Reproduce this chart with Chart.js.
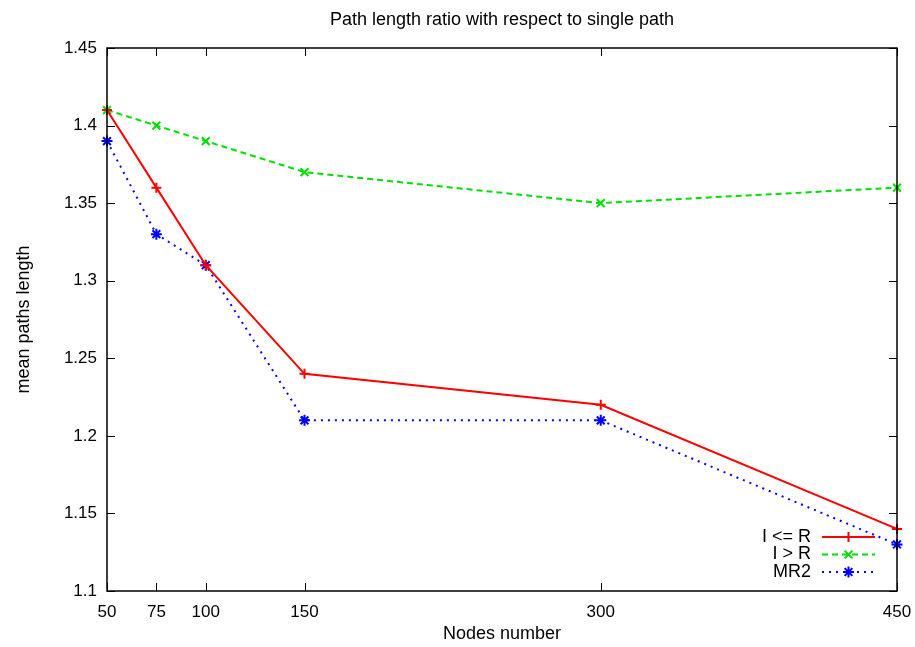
<!DOCTYPE html>
<html>
<head>
<meta charset="utf-8">
<script src="https://cdn.jsdelivr.net/npm/chart.js@4/dist/chart.umd.min.js"></script>
<style>
  html, body { margin: 0; padding: 0; background: #fff; }
  #wrap { width: 915px; height: 647px; }
</style>
</head>
<body>
<div id="wrap"><canvas id="chart" width="915" height="647"></canvas></div>
<script>
const nodes = [50, 75, 100, 150, 300, 450];
const leR = [1.41, 1.36, 1.31, 1.24, 1.22, 1.14];
const gtR = [1.41, 1.40, 1.39, 1.37, 1.35, 1.36];
const mr2 = [1.39, 1.33, 1.31, 1.21, 1.21, 1.13];
const xTicks = [50, 75, 100, 150, 300, 450];
const yTicks = [1.1, 1.15, 1.2, 1.25, 1.3, 1.35, 1.4, 1.45];

const FONT = "'Liberation Sans', Arial, Helvetica, sans-serif";
const pts = (ys) => nodes.map((x, i) => ({ x, y: ys[i] }));

// gnuplot-like frame with inward ticks on all four sides
const framePlugin = {
  id: "frame",
  afterDatasetsDraw(chart) {
    const { ctx, chartArea: a, scales } = chart;
    ctx.save();
    ctx.strokeStyle = "#000";
    ctx.lineWidth = 1.5;
    ctx.strokeRect(a.left, a.top, a.right - a.left, a.bottom - a.top);
    ctx.lineWidth = 1;
    ctx.beginPath();
    const len = 8;
    for (const v of xTicks) {
      const px = Math.round(scales.x.getPixelForValue(v)) + 0.5;
      ctx.moveTo(px, a.bottom); ctx.lineTo(px, a.bottom - len);
      ctx.moveTo(px, a.top); ctx.lineTo(px, a.top + len);
    }
    for (const v of yTicks) {
      const py = Math.round(scales.y.getPixelForValue(v)) + 0.5;
      ctx.moveTo(a.left, py); ctx.lineTo(a.left + len, py);
      ctx.moveTo(a.right, py); ctx.lineTo(a.right - len, py);
    }
    ctx.stroke();
    ctx.restore();
  },
};

// legend in the lower right corner, text left of the sample line
const keyPlugin = {
  id: "key",
  afterDraw(chart) {
    const { ctx, chartArea: a } = chart;
    ctx.save();
    ctx.font = "18px " + FONT;
    ctx.textAlign = "right";
    ctx.textBaseline = "middle";
    chart.data.datasets.forEach((ds, i) => {
      const y = a.bottom - 54 + i * 17.5;
      const textX = a.right - 86;
      const x0 = a.right - 75, x1 = a.right - 22;
      ctx.fillStyle = "#000";
      ctx.fillText(ds.label, textX, y);
      ctx.strokeStyle = ds.borderColor;
      ctx.lineWidth = ds.borderWidth;
      ctx.setLineDash(ds.borderDash || []);
      ctx.beginPath();
      ctx.moveTo(x0, y); ctx.lineTo(x1, y);
      ctx.stroke();
      ctx.setLineDash([]);
      Chart.helpers.drawPoint(ctx, {
        pointStyle: ds.pointStyle, radius: ds.pointRadius, borderWidth: ds.pointBorderWidth,
      }, (x0 + x1) / 2, y);
    });
    ctx.restore();
  },
};

Chart.defaults.font.family = FONT;
Chart.defaults.font.size = 17;
Chart.defaults.color = "#000";

new Chart(document.getElementById("chart"), {
  type: "line",
  data: {
    datasets: [
      {
        label: "I <= R", data: pts(leR),
        borderColor: "#ff0000", backgroundColor: "#ff0000", borderWidth: 2,
        pointStyle: "cross", pointRadius: 5, pointBorderWidth: 2,
      },
      {
        label: "I > R", data: pts(gtR),
        borderColor: "#00e000", backgroundColor: "#00e000", borderWidth: 2, borderDash: [6, 4],
        pointStyle: "crossRot", pointRadius: 5.5, pointBorderWidth: 2,
      },
      {
        label: "MR2", data: pts(mr2),
        borderColor: "#0000ff", backgroundColor: "#0000ff", borderWidth: 2, borderDash: [2, 5],
        pointStyle: "star", pointRadius: 5.5, pointBorderWidth: 2,
      },
    ],
  },
  options: {
    responsive: false,
    animation: false,
    clip: false,
    layout: { padding: { right: 18, left: 0, top: 0, bottom: 0 } },
    plugins: {
      legend: { display: false },
      tooltip: { enabled: false },
      title: {
        display: true,
        fullSize: false,
        text: "Path length ratio with respect to single path",
        font: { size: 18, weight: "normal" },
        padding: { top: 9, bottom: 17.4 },
      },
    },
    scales: {
      x: {
        type: "linear", min: 50, max: 450,
        afterBuildTicks: (s) => { s.ticks = xTicks.map((v) => ({ value: v })); },
        afterFit: (s) => { s.height = 56; s.paddingLeft = 0; s.paddingRight = 0; },
        grid: { display: false, drawTicks: false },
        border: { display: false },
        ticks: { padding: 11, autoSkip: false, maxRotation: 0 },
        title: { display: true, text: "Nodes number", font: { size: 18 }, padding: { top: 0, bottom: 2 } },
      },
      y: {
        type: "linear", min: 1.1, max: 1.45,
        afterBuildTicks: (s) => { s.ticks = yTicks.map((v) => ({ value: v })); },
        afterFit: (s) => { s.width = 107; s.paddingTop = 0; s.paddingBottom = 0; },
        grid: { display: false, drawTicks: false },
        border: { display: false },
        ticks: { padding: 10, callback: (v) => String(Math.round(v * 100) / 100) },
        title: { display: true, text: "mean paths length", font: { size: 18 }, padding: { top: 13, bottom: 0 } },
      },
    },
  },
  plugins: [framePlugin, keyPlugin],
});
</script>
</body>
</html>
